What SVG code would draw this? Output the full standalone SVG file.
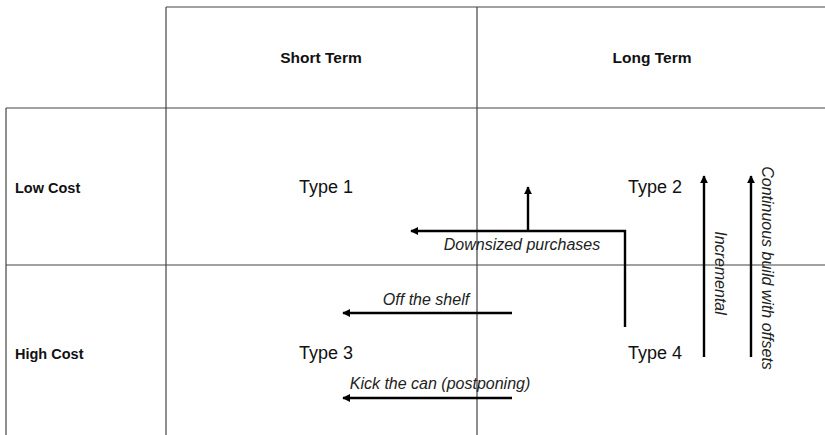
<svg xmlns="http://www.w3.org/2000/svg" width="825" height="435" viewBox="0 0 825 435">
<defs>
<marker id="ah" viewBox="0 0 10 10" refX="9" refY="5" markerWidth="3.4" markerHeight="3.4" orient="auto" markerUnits="strokeWidth">
<path d="M0,0 L10,5 L0,10 z" fill="#000"/>
</marker>
<style>
.grid{stroke:#444;stroke-width:1.2;fill:none}
.arr{stroke:#000;stroke-width:2.4;fill:none}
.hdr{font-family:"Liberation Sans",Arial,sans-serif;font-weight:bold;font-size:15.5px;fill:#111}
.typ{font-family:"Liberation Sans",Arial,sans-serif;font-size:18px;fill:#111;text-anchor:middle}
.lbl{font-family:"Liberation Sans",Arial,sans-serif;font-style:italic;font-size:16px;fill:#222;text-anchor:middle}
</style>
</defs>
<rect width="825" height="435" fill="#fff"/>
<g id="grid">
<path class="grid" d="M166,7 H825 M6,108 H825 M6,265 H825 M166,7 V435 M477,7 V435 M6,108 V435"/>
</g>
<g id="headers">
<text class="hdr" x="321" y="63" text-anchor="middle">Short Term</text>
<text class="hdr" x="652" y="63" text-anchor="middle">Long Term</text>
<text class="hdr" x="15" y="193" style="font-size:14.5px">Low Cost</text>
<text class="hdr" x="15" y="359" style="font-size:14.5px">High Cost</text>
</g>
<g id="type1"><text class="typ" x="326" y="193">Type 1</text></g>
<g id="type2"><text class="typ" x="655" y="193">Type 2</text></g>
<g id="type3"><text class="typ" x="326" y="359">Type 3</text></g>
<g id="type4"><text class="typ" x="655" y="359">Type 4</text></g>
<g id="connectors">
<path class="arr" d="M625,327 V231 H411" marker-end="url(#ah)"/>
<path class="arr" d="M528,231 V187" marker-end="url(#ah)"/>
<path class="arr" d="M704,357 V176" marker-end="url(#ah)"/>
<path class="arr" d="M751,357 V176" marker-end="url(#ah)"/>
<path class="arr" d="M512,313 H343" marker-end="url(#ah)"/>
<path class="arr" d="M512,398 H343" marker-end="url(#ah)"/>
</g>
<g id="labels">
<text class="lbl" x="522" y="250">Downsized purchases</text>
<text class="lbl" x="426" y="305">Off the shelf</text>
<text class="lbl" x="440" y="389">Kick the can (postponing)</text>
<text class="lbl" transform="translate(715,273) rotate(90)">Incremental</text>
<text class="lbl" transform="translate(762,268) rotate(90)">Continuous build with offsets</text>
</g>
</svg>
